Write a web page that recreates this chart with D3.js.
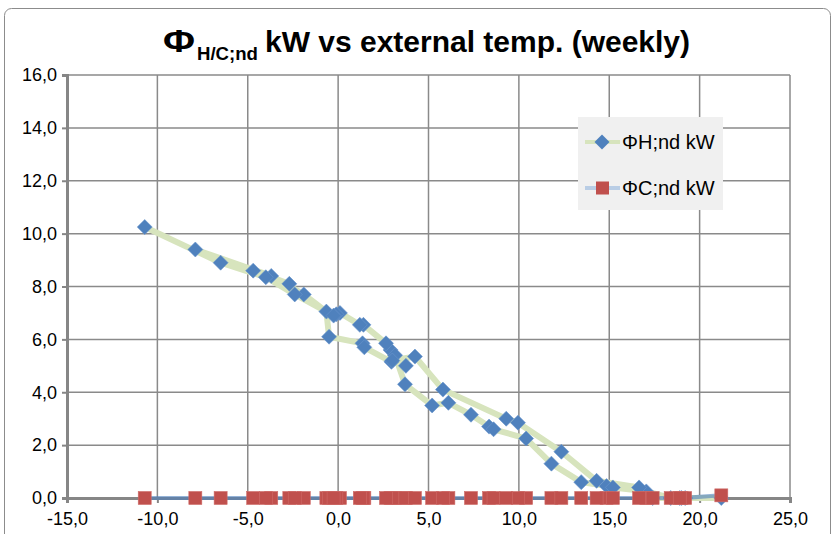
<!DOCTYPE html>
<html><head><meta charset="utf-8">
<script src="https://cdn.jsdelivr.net/npm/d3@7/dist/d3.min.js"></script>
<style>body{margin:0;background:#fff;}svg{display:block;font-family:"Liberation Sans",Arial,sans-serif;}</style>
</head><body><svg id="c" width="836" height="534"></svg>
<script>
// weekly external temperature (°C), in week order
const temps = [-2.7,-4.7,-7.9,-3.7,-1.9,-0.65,-0.5,1.35,1.45,2.95,3.75,2.9,3.15,3.7,5.2,6.1,7.35,8.35,8.6,10.4,11.8,13.45,14.85,15.2,17.05,18.4,19.0,21.2,19.2,18.9,17.4,16.65,14.3,12.35,9.95,9.3,5.8,4.25,3.0,2.65,1.4,1.2,0.1,-0.1,-0.25,-2.4,-4.0,-6.5,-10.7];
// heating need ΦH;nd (kW)
const heating = [8.1,8.6,9.4,8.4,7.7,7.05,6.1,5.85,5.7,5.15,5.0,5.6,5.4,4.3,3.5,3.6,3.15,2.7,2.6,2.25,1.3,0.6,0.45,0.4,0.25,0,0,0,0,0,0,0.4,0.65,1.75,2.85,3.0,4.1,5.35,5.2,5.85,6.55,6.55,7.0,6.95,6.9,7.7,8.35,8.9,10.25];
// cooling need ΦC;nd (kW)
const cooling = [0,0,0,0,0,0,0,0,0,0,0,0,0,0,0,0,0,0,0,0,0,0,0,0,0,0,0,0.1,0,0,0,0,0,0,0,0,0,0,0,0,0,0,0,0,0,0,0,0,0];
const xTicks = [-15,-10,-5,0,5,10,15,20,25];
const yTicks = [0,2,4,6,8,10,12,14,16];
const seriesNames = ["ΦH;nd kW","ΦC;nd kW"];

const svg = d3.select("#c");
const L=67,R=790,T=75,B=498;
const x = d3.scaleLinear().domain([-15,25]).range([L,R]);
const y = d3.scaleLinear().domain([0,16]).range([B,T]);
const fmt = d => d.toFixed(1).replace(".",",");

// outer chart border
svg.append("rect").attr("x",4.5).attr("y",8.5).attr("width",826).attr("height",560).attr("rx",7)
  .attr("fill","#fff").attr("stroke","#8c8c8c").attr("stroke-width",1);

// grid
svg.append("g").selectAll("line").data(yTicks.filter(d=>d>0)).join("line")
  .attr("x1",L).attr("x2",R).attr("y1",d=>y(d)).attr("y2",d=>y(d))
  .attr("stroke","#8a8a8a").attr("stroke-width",1.5);
svg.append("g").selectAll("line").data(xTicks.filter(d=>d>-15)).join("line")
  .attr("y1",T).attr("y2",B).attr("x1",d=>x(d)).attr("x2",d=>x(d))
  .attr("stroke","#8a8a8a").attr("stroke-width",1.5);

// axes
const ya = svg.append("g").attr("transform",`translate(${L},0)`)
  .call(d3.axisLeft(y).tickValues(yTicks).tickFormat(fmt).tickSize(5).tickPadding(5));
const xa = svg.append("g").attr("transform",`translate(0,${B})`)
  .call(d3.axisBottom(x).tickValues(xTicks).tickFormat(fmt).tickSize(5).tickPadding(9));
[ya,xa].forEach(a=>{
  a.select(".domain").attr("stroke","#868686").attr("stroke-width",3);
  a.selectAll(".tick line").attr("stroke","#868686").attr("stroke-width",2);
  a.selectAll("text").attr("font-size",18).attr("fill","#000").attr("font-family","Liberation Sans, Arial, sans-serif");
});

const pts = temps.map((t,i)=>({t,h:heating[i],c:cooling[i]}));
const plot = svg.append("g");
const dia = "M0,-7.5L7.5,0L0,7.5L-7.5,0Z";
// heating line + markers
plot.append("path").datum(pts).attr("fill","none").attr("stroke","#d7e4bd").attr("stroke-width",6)
  .attr("stroke-linejoin","round").attr("d",d3.line().x(d=>x(d.t)).y(d=>y(d.h)));
plot.append("g").selectAll("path").data(pts).join("path")
  .attr("transform",d=>`translate(${x(d.t)},${y(d.h)})`).attr("d",dia)
  .attr("fill","#4f81bd").attr("stroke","#6a96cc").attr("stroke-width",0.6);
// cooling line + markers
plot.append("path").datum(pts).attr("fill","none").attr("stroke","#4f81bd").attr("stroke-opacity",0.6).attr("stroke-width",4)
  .attr("d",d3.line().x(d=>x(d.t)).y(d=>y(d.c)));
plot.append("g").selectAll("rect").data(pts).join("rect")
  .attr("x",d=>x(d.t)-6.5).attr("y",d=>y(d.c)-6.5).attr("width",13).attr("height",13)
  .attr("fill","#c0504d").attr("stroke","#cf6b68").attr("stroke-width",0.6);

// title
const tg = svg.append("g").attr("font-weight","bold").attr("fill","#000");
tg.append("text").attr("x",163).attr("y",52).attr("font-size",31).attr("textLength",32).attr("lengthAdjust","spacingAndGlyphs").text("Φ");
tg.append("text").attr("x",197).attr("y",60).attr("font-size",19).attr("textLength",61).attr("lengthAdjust","spacingAndGlyphs").text("H/C;nd");
tg.append("text").attr("x",265).attr("y",52).attr("font-size",30).attr("textLength",425).attr("lengthAdjust","spacingAndGlyphs").text("kW vs external temp. (weekly)");

// legend
const lg = svg.append("g");
lg.append("rect").attr("x",578).attr("y",117).attr("width",145).attr("height",93).attr("fill","#f0f0f0");
const lcol = ["#d7e4bd","#b9cde5"];
seriesNames.forEach((n,i)=>{
  const yy = 142 + i*46;
  lg.append("line").attr("x1",585).attr("x2",620).attr("y1",yy).attr("y2",yy).attr("stroke",lcol[i]).attr("stroke-width",4);
  if(i===0) lg.append("path").attr("transform",`translate(602,${yy})`).attr("d",dia).attr("fill","#4f81bd");
  else lg.append("rect").attr("x",596).attr("y",yy-6.5).attr("width",13).attr("height",13).attr("fill","#c0504d");
  lg.append("text").attr("x",622).attr("y",yy+7).attr("font-size",20).attr("fill","#000").text(n);
});
</script></body></html>
